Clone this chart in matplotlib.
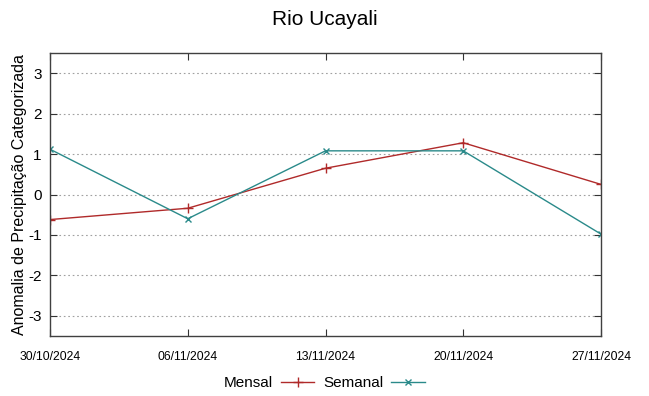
import matplotlib; matplotlib.use("Agg")
import matplotlib.pyplot as plt

dates = ["30/10/2024", "06/11/2024", "13/11/2024", "20/11/2024", "27/11/2024"]
mensal = [-0.62, -0.34, 0.65, 1.28, 0.25]
semanal = [1.12, -0.60, 1.08, 1.08, -0.98]
yticks = [-3, -2, -1, 0, 1, 2, 3]

plt.rcParams.update({"font.family": ["Liberation Sans", "DejaVu Sans"]})

fig = plt.figure(figsize=(6.49, 3.96), dpi=100)
ax = fig.add_axes([50/649, 60/396, 551/649, 283/396])
x = list(range(len(dates)))
ax.plot(x, mensal, color="#b02a2a", lw=1.0, marker="+", ms=7, mew=1.0, label="Mensal")
ax.plot(x, semanal, color="#2a8a8a", lw=1.0, marker="x", ms=5, mew=1.0, label="Semanal")

ax.set_xlim(0, 4); ax.set_ylim(-3.5, 3.5)
ax.set_xticks(x)
ax.set_xticklabels(dates, fontsize=8.7)
ax.set_yticks(yticks); ax.set_yticklabels([str(v) for v in yticks], fontsize=11)
ax.tick_params(direction="in", top=True, right=True, length=5, color="#333333", pad=6)
ax.tick_params(axis="x", pad=11)
for s in ax.spines.values():
    s.set_color("#404040"); s.set_linewidth(1.0)
ax.grid(axis="y", ls=(0, (1.5, 2.5)), color="#a0a0a0", lw=0.8)
ax.set_ylabel("Anomalia de Precipitação Categorizada", fontsize=11.5, labelpad=1)
fig.suptitle("Rio Ucayali", fontsize=15, y=0.975)
fig.legend(loc="lower center", bbox_to_anchor=(0.5, -0.02), ncol=2, frameon=False,
           markerfirst=False, fontsize=11, handlelength=2.2, handletextpad=0.5,
           columnspacing=0.6)
fig.savefig("out.png", dpi=100)
